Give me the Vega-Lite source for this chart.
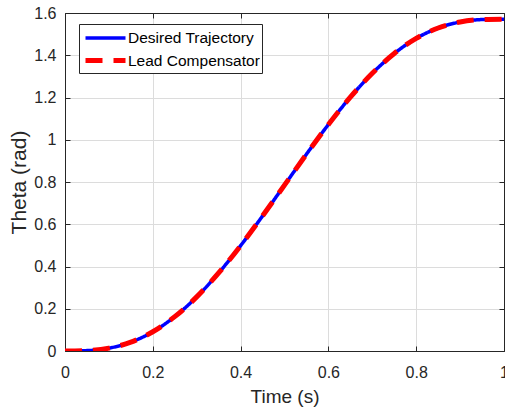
{
  "$schema": "https://vega.github.io/schema/vega-lite/v6.json",
  "width": 439,
  "height": 338,
  "autosize": {"type": "none"},
  "padding": {"left": 65, "top": 13, "right": 1, "bottom": 58},
  "background": "white",
  "config": {
    "font": "Liberation Sans",
    "view": {"stroke": "#262626", "strokeWidth": 1},
    "axis": {
      "labelFont": "Liberation Sans",
      "titleFont": "Liberation Sans",
      "labelFontSize": 16,
      "titleFontWeight": "normal",
      "labelColor": "#262626",
      "titleColor": "#262626",
      "domainColor": "#262626",
      "tickColor": "#262626",
      "gridColor": "#dcdcdc",
      "tickSize": -5
    }
  },
  "data": {
    "values": [
      {"t": 0, "theta": 0, "series": "Desired Trajectory"},
      {"t": 0.05, "theta": 0.001819, "series": "Desired Trajectory"},
      {"t": 0.1, "theta": 0.013446, "series": "Desired Trajectory"},
      {"t": 0.15, "theta": 0.041802, "series": "Desired Trajectory"},
      {"t": 0.2, "theta": 0.090981, "series": "Desired Trajectory"},
      {"t": 0.25, "theta": 0.162601, "series": "Desired Trajectory"},
      {"t": 0.3, "theta": 0.256166, "series": "Desired Trajectory"},
      {"t": 0.35, "theta": 0.369404, "series": "Desired Trajectory"},
      {"t": 0.4, "theta": 0.498635, "series": "Desired Trajectory"},
      {"t": 0.45, "theta": 0.639116, "series": "Desired Trajectory"},
      {"t": 0.5, "theta": 0.785398, "series": "Desired Trajectory"},
      {"t": 0.55, "theta": 0.93168, "series": "Desired Trajectory"},
      {"t": 0.6, "theta": 1.072161, "series": "Desired Trajectory"},
      {"t": 0.65, "theta": 1.201392, "series": "Desired Trajectory"},
      {"t": 0.7, "theta": 1.31463, "series": "Desired Trajectory"},
      {"t": 0.75, "theta": 1.408195, "series": "Desired Trajectory"},
      {"t": 0.8, "theta": 1.479815, "series": "Desired Trajectory"},
      {"t": 0.85, "theta": 1.528994, "series": "Desired Trajectory"},
      {"t": 0.9, "theta": 1.55735, "series": "Desired Trajectory"},
      {"t": 0.95, "theta": 1.568977, "series": "Desired Trajectory"},
      {"t": 1, "theta": 1.570796, "series": "Desired Trajectory"},
      {"t": 0, "theta": 0, "series": "Lead Compensator"},
      {"t": 0.05, "theta": 0.001819, "series": "Lead Compensator"},
      {"t": 0.1, "theta": 0.013446, "series": "Lead Compensator"},
      {"t": 0.15, "theta": 0.041802, "series": "Lead Compensator"},
      {"t": 0.2, "theta": 0.090981, "series": "Lead Compensator"},
      {"t": 0.25, "theta": 0.162601, "series": "Lead Compensator"},
      {"t": 0.3, "theta": 0.256166, "series": "Lead Compensator"},
      {"t": 0.35, "theta": 0.369404, "series": "Lead Compensator"},
      {"t": 0.4, "theta": 0.498635, "series": "Lead Compensator"},
      {"t": 0.45, "theta": 0.639116, "series": "Lead Compensator"},
      {"t": 0.5, "theta": 0.785398, "series": "Lead Compensator"},
      {"t": 0.55, "theta": 0.93168, "series": "Lead Compensator"},
      {"t": 0.6, "theta": 1.072161, "series": "Lead Compensator"},
      {"t": 0.65, "theta": 1.201392, "series": "Lead Compensator"},
      {"t": 0.7, "theta": 1.31463, "series": "Lead Compensator"},
      {"t": 0.75, "theta": 1.408195, "series": "Lead Compensator"},
      {"t": 0.8, "theta": 1.479815, "series": "Lead Compensator"},
      {"t": 0.85, "theta": 1.528994, "series": "Lead Compensator"},
      {"t": 0.9, "theta": 1.55735, "series": "Lead Compensator"},
      {"t": 0.95, "theta": 1.568977, "series": "Lead Compensator"},
      {"t": 1, "theta": 1.570796, "series": "Lead Compensator"}
    ]
  },
  "resolve": {"axis": {"x": "independent", "y": "independent"}},
  "layer": [
    {
      "mark": {"type": "line", "interpolate": "monotone", "clip": true},
      "encoding": {
        "x": {
          "field": "t", "type": "quantitative",
          "scale": {"domain": [0, 1], "nice": false},
          "axis": {"title": "Time (s)", "titleFontSize": 19, "values": [0, 0.2, 0.4, 0.6, 0.8, 1], "labelExpr": "datum.value == 0 || datum.value == 1 ? format(datum.value, 'd') : format(datum.value, '.1f')", "grid": true, "labelPadding": 18, "titlePadding": 7, "labelFlush": false}
        },
        "y": {
          "field": "theta", "type": "quantitative",
          "scale": {"domain": [0, 1.6], "nice": false},
          "axis": {"title": "Theta (rad)", "titleFontSize": 21, "values": [0, 0.2, 0.4, 0.6, 0.8, 1, 1.2, 1.4, 1.6], "labelExpr": "datum.value == 0 || datum.value == 1 ? format(datum.value, 'd') : format(datum.value, '.1f')", "grid": true, "labelPadding": 14, "titlePadding": 4, "labelFlush": false}
        },
        "color": {
          "field": "series", "type": "nominal",
          "scale": {"domain": ["Desired Trajectory", "Lead Compensator"], "range": ["#0000ff", "#ff0000"]},
          "legend": {
            "title": null,
            "orient": "none",
            "legendX": 14,
            "legendY": 11,
            "fillColor": "white",
            "strokeColor": "#262626",
            "padding": 2,
            "symbolType": "M-2,0H2",
            "symbolSize": 400,
            "symbolOffset": 12,
            "labelFontSize": 15.5,
            "labelColor": "#000000",
            "labelFont": "Liberation Sans",
            "labelOffset": 10,
            "rowPadding": 1
          }
        },
        "strokeDash": {
          "field": "series", "type": "nominal",
          "scale": {"domain": ["Desired Trajectory", "Lead Compensator"], "range": [[1, 0], [17, 11]]}
        },
        "strokeWidth": {
          "field": "series", "type": "nominal",
          "scale": {"domain": ["Desired Trajectory", "Lead Compensator"], "range": [3.5, 5]}
        }
      }
    },
    {
      "mark": {"type": "line", "opacity": 0},
      "encoding": {
        "x": {
          "field": "t", "type": "quantitative",
          "axis": {"orient": "top", "labels": false, "title": null, "values": [0, 0.2, 0.4, 0.6, 0.8, 1], "grid": false}
        },
        "y": {
          "field": "theta", "type": "quantitative",
          "axis": {"orient": "right", "labels": false, "title": null, "values": [0, 0.2, 0.4, 0.6, 0.8, 1, 1.2, 1.4, 1.6], "grid": false}
        }
      }
    }
  ]
}
